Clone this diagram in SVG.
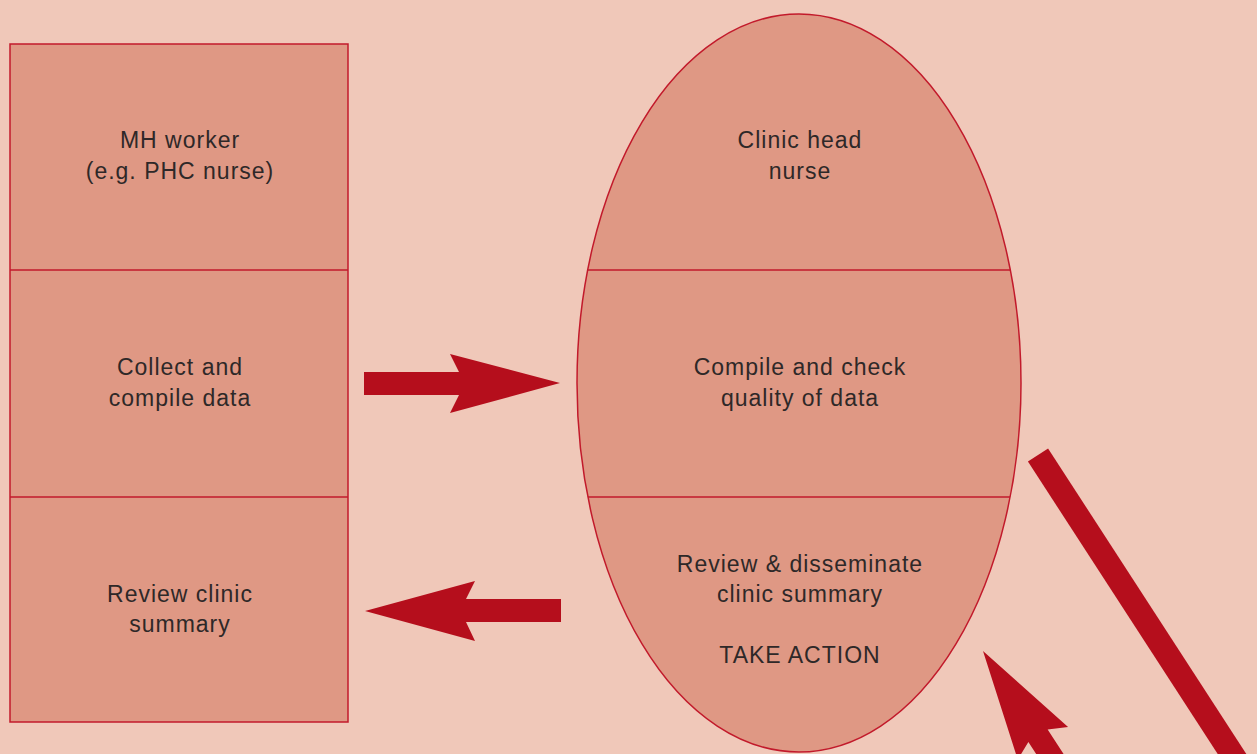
<svg xmlns="http://www.w3.org/2000/svg" width="1257" height="754" viewBox="0 0 1257 754">
<defs>
<style>
.box{fill:#df9884;stroke:#c21a2b;stroke-width:1.5}
.div{stroke:#c21a2b;stroke-width:1.5;fill:none}
.arr{fill:#b50e1c}
.t{font-family:"Liberation Sans",Arial,sans-serif;font-size:23px;letter-spacing:1px;fill:#2e2828;text-anchor:middle}
</style>
<clipPath id="ec"><ellipse cx="799" cy="383" rx="222" ry="369"/></clipPath>
</defs>
<rect x="0" y="0" width="1257" height="754" fill="#f0c8b9"/>
<g id="worker">
<rect class="box" x="10" y="44" width="338" height="678"/>
<line class="div" x1="10" y1="270" x2="348" y2="270"/>
<line class="div" x1="10" y1="497" x2="348" y2="497"/>
<text class="t" x="180" y="148">MH worker</text>
<text class="t" x="180" y="179">(e.g. PHC nurse)</text>
<text class="t" x="180" y="375">Collect and</text>
<text class="t" x="180" y="406">compile data</text>
<text class="t" x="180" y="602">Review clinic</text>
<text class="t" x="180" y="632">summary</text>
</g>
<g id="headnurse">
<ellipse class="box" cx="799" cy="383" rx="222" ry="369"/>
<g clip-path="url(#ec)">
<line class="div" x1="570" y1="270" x2="1030" y2="270"/>
<line class="div" x1="570" y1="497" x2="1030" y2="497"/>
</g>
<text class="t" x="800" y="148">Clinic head</text>
<text class="t" x="800" y="179">nurse</text>
<text class="t" x="800" y="375">Compile and check</text>
<text class="t" x="800" y="406">quality of data</text>
<text class="t" x="800" y="572">Review &amp; disseminate</text>
<text class="t" x="800" y="602">clinic summary</text>
<text class="t" x="800" y="663">TAKE ACTION</text>
</g>
<g id="connectors">
<polygon class="arr" points="364,372 459,372 450,354 560,383 450,413 459,395 364,395"/>
<polygon class="arr" points="561,599 466,599 475,581 365,611 475,641 466,622 561,622"/>
<line x1="1038" y1="455" x2="1245" y2="774" stroke="#b50e1c" stroke-width="24"/>
<polygon class="arr" transform="translate(983,651) rotate(57)" points="0,0 110,-30 101,-11.5 220,-11.5 220,11.5 101,11.5 110,30"/>
</g>
</svg>
